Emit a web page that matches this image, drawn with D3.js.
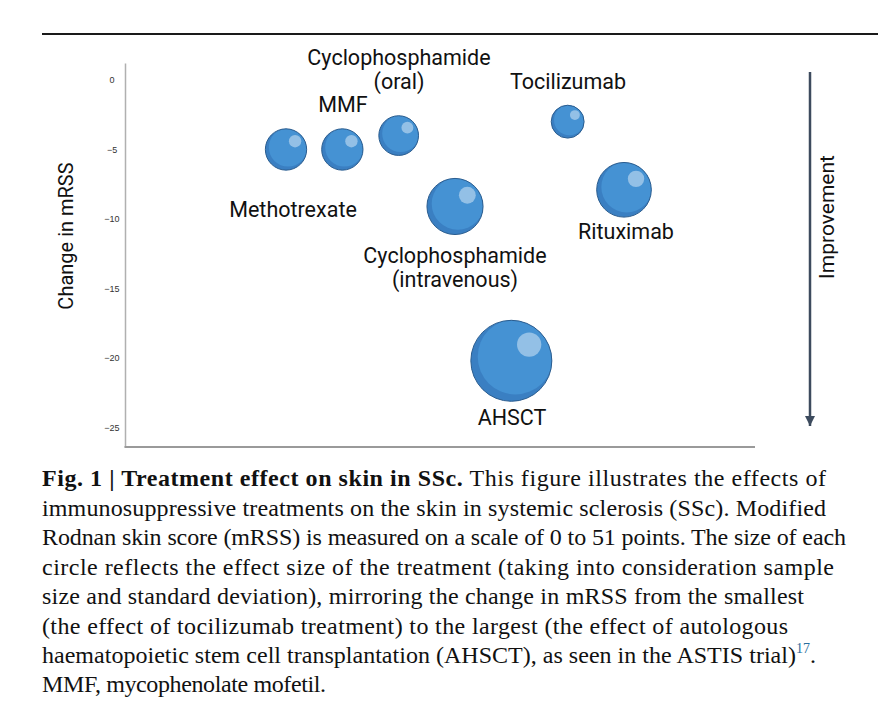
<!DOCTYPE html>
<html><head><meta charset="utf-8">
<script src="https://cdn.jsdelivr.net/npm/d3@7"></script>
<style>body{margin:0;background:#fff}svg{display:block}</style>
</head><body>
<script>
const treatments = ["Methotrexate","MMF","Cyclophosphamide (oral)","Cyclophosphamide (intravenous)","AHSCT","Tocilizumab","Rituximab"];
const mrssChange = [-5, -5, -4, -9.1, -20.2, -3, -7.9];
const effectSize = [0.26, 0.26, 0.24, 0.48, 1.0, 0.165, 0.455];
const yTicks = [0, -5, -10, -15, -20, -25];
const labelLines = [["Methotrexate"],["MMF"],["Cyclophosphamide","(oral)"],["Cyclophosphamide","(intravenous)"],["AHSCT"],["Tocilizumab"],["Rituximab"]];
const captionBold = "Fig. 1 | Treatment effect on skin in SSc.";
const captionLines = [
 " This figure illustrates the effects of",
 "immunosuppressive treatments on the skin in systemic sclerosis (SSc). Modified",
 "Rodnan skin score (mRSS) is measured on a scale of 0 to 51 points. The size of each",
 "circle reflects the effect size of the treatment (taking into consideration sample",
 "size and standard deviation), mirroring the change in mRSS from the smallest",
 "(the effect of tocilizumab treatment) to the largest (the effect of autologous",
 "haematopoietic stem cell transplantation (AHSCT), as seen in the ASTIS trial)",
 "MMF, mycophenolate mofetil."
];

const W = 878, H = 726;
const svg = d3.select("body").append("svg").attr("width", W).attr("height", H);

// top rule
svg.append("line").attr("x1", 42).attr("x2", 878).attr("y1", 34).attr("y2", 34)
  .attr("stroke", "#1a1a1a").attr("stroke-width", 2);

const x = d3.scalePoint().domain(treatments).range([286, 624]);
const y = d3.scaleLinear().domain([1.22, -26.4]).range([63, 447]);
const r = d3.scaleSqrt().domain([0, 1]).range([0, 40.5]);

// y axis
const yAxis = svg.append("g").attr("transform", "translate(125,0)")
  .call(d3.axisLeft(y).tickValues(yTicks).tickSize(0).tickSizeOuter(0).tickFormat(d3.format("d")));
yAxis.select(".domain").attr("stroke", "#b0b0b0").attr("stroke-width", 1.5);
yAxis.selectAll("text").attr("x", -13).attr("text-anchor", "middle")
  .attr("font-family", "Liberation Sans, Arial, sans-serif").attr("font-size", 9).attr("fill", "#333");

// x baseline
svg.append("line").attr("x1", 124.5).attr("x2", 755).attr("y1", 447).attr("y2", 447)
  .attr("stroke", "#9a9a9a").attr("stroke-width", 2);

svg.append("text").attr("transform", "translate(73,236) rotate(-90)")
  .attr("text-anchor", "middle").attr("font-family", "Roboto, sans-serif")
  .attr("font-size", 20).attr("fill", "#111").text("Change in mRSS");

const defs = svg.append("defs");

// bubbles
const data = treatments.map((t, i) => ({t, v: mrssChange[i], s: effectSize[i], lines: labelLines[i]}));
const g = svg.append("g");
data.forEach((d, i) => {
  const cx = x(d.t), cy = y(d.v), rr = r(d.s);
  const cid = "c" + i;
  defs.append("clipPath").attr("id", cid).append("circle").attr("cx", cx).attr("cy", cy).attr("r", rr);
  const b = g.append("g");
  b.append("circle").attr("cx", cx).attr("cy", cy).attr("r", rr).attr("fill", "#3a7fc2");
  b.append("circle").attr("clip-path", `url(#${cid})`)
    .attr("cx", cx + rr * 0.1).attr("cy", cy - rr * 0.1).attr("r", rr * 0.93).attr("fill", "#4592d3");
  b.append("circle").attr("cx", cx + rr * 0.44).attr("cy", cy - rr * 0.4).attr("r", rr * 0.3)
    .attr("fill", "#93c0e6");
  b.append("circle").attr("cx", cx).attr("cy", cy).attr("r", rr).attr("fill", "none")
    .attr("stroke", "#2b5d8f").attr("stroke-width", 1);
});

// labels
const labelPos = {
  "Methotrexate": [293, 217],
  "MMF": [343, 112],
  "Cyclophosphamide (oral)": [399, 65],
  "Cyclophosphamide (intravenous)": [455, 263],
  "AHSCT": [512, 425],
  "Tocilizumab": [568, 89],
  "Rituximab": [626, 239]
};
data.forEach(d => {
  const p = labelPos[d.t];
  const t = svg.append("text").attr("text-anchor", "middle")
    .attr("font-family", "Roboto, sans-serif").attr("font-size", 21.5).attr("fill", "#111");
  d.lines.forEach((ln, k) => {
    t.append("tspan").attr("x", p[0]).attr("y", p[1] + k * 24).text(ln);
  });
});

// improvement arrow
defs.append("marker").attr("id", "ah").attr("viewBox", "0 0 10 10").attr("refX", 10).attr("refY", 5)
  .attr("markerWidth", 4).attr("markerHeight", 4).attr("markerUnits", "strokeWidth").attr("orient", "auto")
  .append("path").attr("d", "M0,0 L10,5 L0,10 z").attr("fill", "#3d4b5e");
svg.append("line").attr("x1", 810).attr("x2", 810).attr("y1", 72).attr("y2", 426)
  .attr("stroke", "#3d4b5e").attr("stroke-width", 2.5).attr("marker-end", "url(#ah)");
svg.append("text").attr("transform", "translate(834,217) rotate(-90)")
  .attr("text-anchor", "middle").attr("font-family", "Roboto, sans-serif")
  .attr("font-size", 21).attr("fill", "#111").text("Improvement");

// caption
const capX = 42;
const baselines = [486, 515.5, 545, 574.5, 604, 633.5, 663, 692];
const lineEnds = [826, 826, 846, 834, 804, 788, 816, 326];
const cap = svg.append("g").attr("font-family", "Liberation Serif, serif").attr("font-size", 24).attr("fill", "#111");
captionLines.forEach((ln, i) => {
  const t = cap.append("text").attr("x", capX).attr("y", baselines[i])
    .attr("textLength", lineEnds[i] - capX).attr("lengthAdjust", "spacing");
  if (i === 0) t.append("tspan").attr("font-weight", "bold").text(captionBold);
  t.append("tspan").text(ln);
  if (i === 6) {
    t.append("tspan").attr("font-size", 14).attr("dy", -10).attr("fill", "#2a6e9e").text("17");
    t.append("tspan").attr("dy", 10).text(".");
  }
});
</script>
</body></html>
